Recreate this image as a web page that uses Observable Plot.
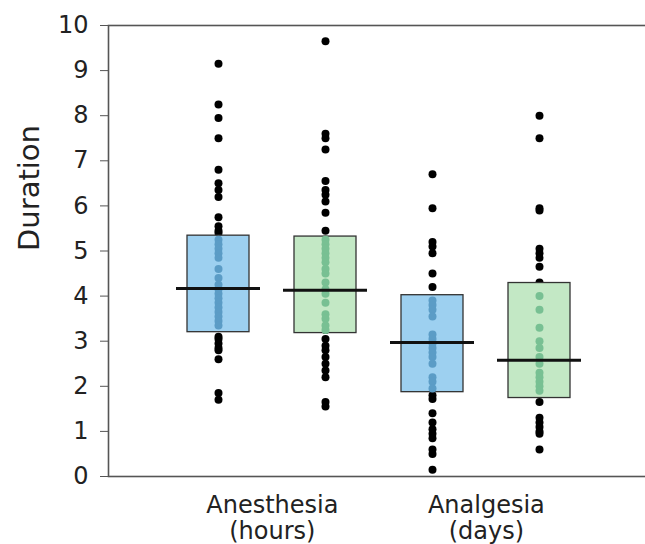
<!DOCTYPE html>
<html><head><meta charset="utf-8">
<script src="https://cdn.jsdelivr.net/npm/d3@7"></script>
<script src="https://cdn.jsdelivr.net/npm/@observablehq/plot@0.6"></script>
<style>body{margin:0;background:#fff}</style>
</head><body><div id="chart"></div>
<script>
// Categories
const groups = ["Anesthesia\n(hours)", "Analgesia\n(days)"];
const boxKeys = ["Anesthesia-blue", "Anesthesia-green", "Analgesia-blue", "Analgesia-green"];
const boxGroup = [0, 0, 1, 1];
const boxColors = ["#9dd0f0", "#c3e8c5", "#9dd0f0", "#c3e8c5"];
const innerDotColors = ["#5b9cc6", "#78c093", "#5b9cc6", "#78c093"];

// Box statistics
const q1 = [3.2, 3.18, 1.87, 1.74];
const medians = [4.17, 4.13, 2.97, 2.58];
const q3 = [5.34, 5.32, 4.02, 4.29];

const anesthesiaBlue = [9.15, 8.25, 7.95, 7.5, 6.8, 6.5, 6.35, 6.2, 5.75, 5.55, 5.45, 5.4, 5.25, 5.15, 5.05, 4.95, 4.85, 4.6, 4.4, 4.25, 4.15, 4.05, 3.95, 3.85, 3.75, 3.65, 3.55, 3.45, 3.35, 3.1, 3.05, 2.95, 2.85, 2.8, 2.6, 1.85, 1.7];
const anesthesiaGreen = [9.65, 7.6, 7.5, 7.25, 6.55, 6.35, 6.25, 6.1, 5.85, 5.45, 5.25, 5.15, 5.05, 4.95, 4.85, 4.75, 4.6, 4.5, 4.3, 4.15, 4.05, 3.85, 3.6, 3.5, 3.35, 3.25, 3.05, 2.9, 2.8, 2.65, 2.5, 2.35, 2.2, 1.65, 1.55];
const analgesiaBlue = [6.7, 5.95, 5.2, 5.1, 4.95, 4.5, 4.2, 3.9, 3.8, 3.7, 3.55, 3.15, 3.05, 2.95, 2.85, 2.75, 2.65, 2.5, 2.2, 2.1, 1.95, 1.8, 1.72, 1.4, 1.2, 1.05, 0.95, 0.85, 0.6, 0.5, 0.15];
const analgesiaGreen = [8.0, 7.5, 5.95, 5.9, 5.05, 4.95, 4.85, 4.65, 4.3, 4.0, 3.7, 3.3, 3.0, 2.85, 2.65, 2.5, 2.3, 2.2, 2.1, 2.0, 1.9, 1.65, 1.3, 1.2, 1.1, 1.0, 0.95, 0.6];
const series = [anesthesiaBlue, anesthesiaGreen, analgesiaBlue, analgesiaGreen];

const yTicks = [0, 1, 2, 3, 4, 5, 6, 7, 8, 9, 10];

// Tables built from the arrays
const boxes = boxKeys.map((key, i) => ({key, q1: q1[i], median: medians[i], q3: q3[i], fill: boxColors[i]}));
const points = series.flatMap((vals, i) => vals.map(v => ({
  key: boxKeys[i], v, inside: v >= q1[i] && v <= q3[i], color: innerDotColors[i]
})));
const groupLabels = groups.map((g, gi) => ({text: g, key: boxKeys[boxGroup.indexOf(gi)]}));

const W = 645, H = 544;
const xRange = [112, 645], padIn = 0.42, padOut = 0.685;
const step = (xRange[1] - xRange[0]) / (boxKeys.length - padIn + 2 * padOut);
const font = "DejaVu Sans, Verdana, sans-serif";

const chart = Plot.plot({
  width: W, height: H,
  marginLeft: 108, marginRight: -4, marginTop: 25, marginBottom: 68,
  style: {fontFamily: font, background: "#fff", color: "#222", overflow: "hidden"},
  x: {type: "band", domain: boxKeys, range: xRange, paddingInner: padIn, paddingOuter: padOut, axis: null},
  y: {domain: [0, 10], label: null, axis: null},
  color: {type: "identity"},
  marks: [
    Plot.dot(points, {x: "key", y: "v", r: 4, fill: "#000"}),
    Plot.barY(boxes, {x: "key", y1: "q1", y2: "q3", fill: "fill", stroke: "#333", strokeWidth: 1.3}),
    Plot.dot(points.filter(d => d.inside), {x: "key", y: "v", r: 4, fill: "color"}),
    Plot.tickY(boxes, {x: "key", y: "median", stroke: "#111", strokeWidth: 3, insetLeft: -11, insetRight: -11}),
    Plot.frame({stroke: "#555", strokeWidth: 1.6}),
    Plot.axisY({ticks: yTicks, tickSize: 8, tickPadding: 12, fontSize: 24, stroke: "#555", label: null}),
    Plot.text(["Duration"], {frameAnchor: "left", rotate: -90, dx: -79, fontSize: 29, fill: "#222"}),
    Plot.text(groupLabels, {x: "key", text: "text", dx: step / 2, frameAnchor: "bottom", lineAnchor: "top", dy: 17, fontSize: 24, lineHeight: 1.12, fill: "#222"})
  ]
});
document.getElementById("chart").appendChild(chart);
</script>
</body></html>
